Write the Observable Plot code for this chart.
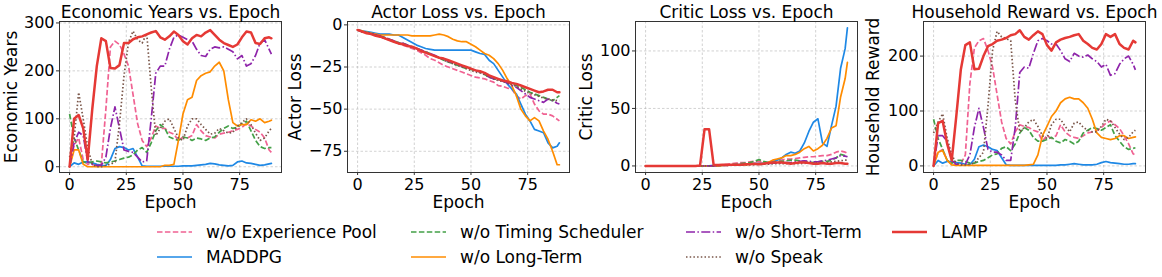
<!DOCTYPE html>
<html>
<head>
<meta charset="utf-8">
<script src="https://cdn.jsdelivr.net/npm/d3@7"></script>
<script src="https://cdn.jsdelivr.net/npm/@observablehq/plot@0.6"></script>
<style>
  html, body { margin: 0; padding: 0; background: #fff; }
  #root { position: relative; width: 1162px; height: 277px; overflow: hidden; font-family: "DejaVu Sans", sans-serif; }
  .panel { position: absolute; top: 0; }
  #root g[aria-label="x-axis tick label"], #root g[aria-label="y-axis tick label"],
  #root g[aria-label="x-axis tick label"] text, #root g[aria-label="y-axis tick label"] text {
    font-size: 16px !important; font-family: "DejaVu Sans", sans-serif !important;
  }
</style>
</head>
<body>
<div id="root"></div>
<script>
// ---------------- DATA ----------------
const epochs = [0,2,4,6,8,10,12,14,16,18,20,22,24,26,28,30,32,34,36,38,40,42,44,46,48,50,52,54,56,58,60,62,64,66,68,70,72,74,76,78,80,82,84,86,88,89];

const seriesNames = ["w/o Experience Pool", "MADDPG", "w/o Timing Scheduler", "w/o Long-Term", "w/o Short-Term", "w/o Speak", "LAMP"];

const panelTitles = ["Economic Years vs. Epoch", "Actor Loss vs. Epoch", "Critic Loss vs. Epoch", "Household Reward vs. Epoch"];
const panelYLabels = ["Economic Years", "Actor Loss", "Critic Loss", "Household Reward"];
const xTicks = [0, 25, 50, 75];
const econTicks = [0, 100, 200, 300];
const actorTicks = [0, -25, -50, -75];
const criticTicks = [0, 50, 100];
const houseTicks = [0, 100, 200];

// Economic Years
const econ_expPool   = [0,45,60,15,5,5,3,5,120,250, 262,255,235,210,150,90,55,42,60,85, 80,80,72,68,55,62,60,65,88,75, 65,62,60,68,70,72,75,78,82,90, 85,78,72,60,35, 30];
const econ_maddpg    = [0,8,5,10,10,8,5,3,2,15, 38,42,40,35,38,20,2,1,1,1, 1,1,1,1,1,2,2,2,3,4, 5,7,6,4,3,2,3,10,12,8, 7,5,3,4,6, 7];
const econ_timing    = [110,60,35,10,8,10,12,10,8,10, 12,15,18,20,25,35,40,30,50,75, 88,80,62,58,55,62,60,55,60,58, 55,60,62,72,80,85,80,82,90,95, 75,55,42,38,40, 40];
const econ_longTerm  = [0,35,35,5,0,0,0,0,0,0, 0,0,0,0,0,0,0,0,0,0, 0,3,3,5,55,110,140,145,180,190, 195,198,210,218,200,140,92,85,88,88, 98,95,100,92,95, 97];
const econ_shortTerm = [0,50,72,65,10,5,3,3,20,80, 125,80,35,32,30,20,10,12,100,195, 210,210,245,270,275,270,265,262,245,232, 230,245,250,248,250,245,240,225,232,210, 215,232,258,265,245, 235];
const econ_speak     = [20,60,155,100,40,5,0,0,3,5, 10,90,190,260,283,265,258,278,165,65, 80,95,100,80,60,55,85,100,100,88, 78,68,70,80,75,70,72,85,92,100, 88,70,55,60,75, 80];
const econ_lamp      = [0,100,108,80,15,120,210,268,262,206, 205,212,258,258,266,270,272,276,280,283, 270,265,272,282,275,262,255,268,275,272, 280,285,275,265,258,254,250,255,270,282, 280,258,256,268,270, 268];

// Actor Loss
const actor_expPool   = [-3,-4,-4.5,-5,-6,-7,-8,-9,-10,-11, -12,-13,-14,-15,-16.5,-18,-20,-21,-22.5,-24, -25,-26,-27,-28,-29,-30,-31,-31.5,-32,-33, -34,-36,-36.5,-37.5,-38,-42,-44,-42,-41,-47, -51,-53,-53,-54,-56, -57];
const actor_maddpg    = [-3,-3.5,-4,-4.5,-5,-5.5,-5.5,-5.5,-6,-6, -7.5,-9,-10.5,-12,-13,-14,-14.5,-15,-15,-15, -15,-15,-15,-15,-15,-15,-16,-17,-17.5,-21, -23,-27,-31,-35,-38,-41,-47,-53,-57,-62, -63,-64,-70,-73,-72, -70];
const actor_timing    = [-3,-4,-4.5,-5,-6,-6.5,-7.5,-8.5,-9.5,-10.5, -11,-12,-13,-14,-15,-16,-17,-18.5,-19.5,-21, -22,-23,-24,-25,-26,-26.5,-27,-28,-29.5,-31, -32,-32.5,-33,-34,-35,-36,-37,-38.5,-40,-41, -42,-43,-44,-45,-43, -42];
const actor_longTerm  = [-3,-3.5,-4.5,-5,-5.5,-6,-6,-6,-6,-6, -6,-6,-6.5,-6.5,-6.5,-6.5,-6.5,-6,-5.5,-6, -7,-8.5,-9.5,-10,-10,-11.5,-13,-15,-17,-18, -20,-23,-27,-32,-36,-42,-50,-54,-57,-55, -57,-63,-68,-75,-83, -83];
const actor_shortTerm = [-3,-4,-4.5,-5,-6,-6.5,-7.5,-8.5,-9.5,-10.5, -11,-12,-13,-14,-15,-16,-17,-18,-19.5,-20.5, -21.5,-22.5,-23.5,-24.5,-25,-26,-27,-28,-29,-31, -32,-32.5,-33.5,-34.5,-36,-37,-39,-41,-43,-44, -45,-46,-44,-45,-46.5, -47];
const actor_speak     = [-3,-4,-4.5,-5,-6,-7,-8,-9,-10,-11, -11.5,-12.5,-13.5,-14.5,-15.5,-16.5,-17.5,-18.5,-19.5,-21, -22,-23,-24,-25,-26,-27,-28,-28.5,-29.5,-31, -32,-33,-33.5,-34.5,-35.5,-36.5,-38,-39.5,-40.5,-41.5, -42.5,-43.5,-44,-44.5,-45, -45];
const actor_lamp      = [-3,-4,-5,-5.5,-6.5,-7,-8,-9,-10,-11, -11.5,-12.5,-13,-14,-15.5,-16.5,-17.5,-18.5,-19.5,-20, -21,-22,-23,-24,-25,-26,-27,-27.5,-28.5,-30, -31,-32,-33,-33.5,-34.5,-35,-36,-37,-38,-39, -40,-39.5,-38.5,-38.5,-40, -40];

// Critic Loss
const critic_expPool   = [0,0,0,0,0,0,0,0,0,0, 0,0,0,0,0,0,0.5,1,1.5,2, 2.5,3,3,3.5,4,4,3.5,3,4,5, 5,6,6,6.5,7,7.5,8,8,8.5,9, 9,10,12,13,12, 11];
const critic_maddpg    = [0,0,0,0,0,0,0,0,0,0, 0,0,0,0,0,0.5,0.5,1,1,1, 1,1.5,1.5,2,2,2,2.5,3,3.5,5, 7,10,12,11,13,20,30,38,41,20, 17,35,52,85,102, 120];
const critic_timing    = [0,0,0,0,0,0,0,0,0,0, 0,0,0,0,0,0,0.3,0.5,1,1, 1.5,2,2.5,3,4,5.5,4,3,3,4, 4,4.5,5,5,4.5,4,3.5,3,3.5,4, 4,5,7,10,9, 8];
const critic_longTerm  = [0,0,0,0,0,0,0,0,0,0, 0,0,0,0,0,0,0,0.5,0.5,1, 1,1,1,1.5,1.5,2,2,3,5,6, 7,9,9,10,12,15,17,13,15,18, 24,33,35,60,76, 90];
const critic_shortTerm = [0,0,0,0,0,0,0,0,0,0, 0,0,0,0,0,0,0.3,0.5,0.5,1, 1,1,1.5,1.5,2,2,2,2,2.5,2.5, 2.5,3,3,3.5,4,4.5,4,3.5,3.5,4.5, 5,6,7,9,8.5, 8];
const critic_speak     = [0,0,0,0,0,0,0,0,0,0, 0,0,0,0,0,0,0.3,0.5,0.5,0.8, 1,1,1,1,1.2,1.3,1.5,1.5,1.8,2, 2,2,2.2,2,2,2.3,2.5,2.8,3,3, 3,3.5,4,4.5,5, 5];
const critic_lamp      = [0,0,0,0,0,0,0,0,0,0, 0,0,0.3,32,32,1,0.8,1,1,1, 1,1,1.5,1.5,2,1.5,2,2.5,3,3, 3,2.5,2,2.5,3,3,2.5,2,2,2.5, 2,2,2.5,2.5,2, 2];

// Household Reward
const house_expPool   = [0,25,30,10,3,2,3,20,150,215, 228,232,210,180,130,80,50,40,62,75, 72,70,65,62,45,55,50,55,75,62, 55,52,50,55,60,62,65,70,78,82, 75,68,55,40,22, 20];
const house_maddpg    = [0,10,5,8,8,6,5,3,2,12, 35,38,35,30,28,15,2,1,1,1, 1,1,1,1,1,1,1,1,2,2, 3,4,3,2,2,2,3,6,8,6, 5,4,3,3,4, 4];
const house_timing    = [85,50,30,10,5,10,10,8,5,5, 8,10,15,20,22,32,35,28,40,60, 70,65,52,45,45,48,52,45,42,48, 45,40,45,60,65,70,68,65,70,75, 55,45,35,30,32, 33];
const house_longTerm  = [0,25,28,10,2,1,1,1,1,1, 1,1,1,1,1,1,1,1,1,1, 1,2,3,20,55,72,90,100,115,122, 125,122,122,115,105,85,60,52,50,48, 50,55,55,50,52, 53];
const house_shortTerm = [0,55,55,45,10,3,3,3,20,70, 105,70,30,25,25,20,10,10,70,170, 180,178,205,228,232,228,222,222,210,195, 190,205,200,198,202,195,190,180,185,165, 168,185,195,200,185, 175];
const house_speak     = [60,80,95,50,20,5,2,2,3,5, 15,25,110,210,245,235,232,228,120,62, 70,80,85,72,55,50,75,85,85,72, 62,78,80,70,65,62,62,72,85,82, 70,58,48,52,62, 65];
const house_lamp      = [0,78,82,40,10,90,175,220,225,176, 177,200,218,222,228,230,233,238,240,247, 235,230,238,245,240,220,210,225,230,233, 235,238,240,228,222,215,212,222,240,235, 240,222,215,212,228, 225];

// ---------------- STYLES ----------------
const styles = [
  {color: "#F06292", width: 1.7, dash: "5.5,2.4", cap: "butt"},
  {color: "#1E88E5", width: 1.7, dash: null, cap: "round"},
  {color: "#43A047", width: 1.7, dash: "5.5,2.4", cap: "butt"},
  {color: "#FF8C00", width: 1.7, dash: null, cap: "round"},
  {color: "#8E24AA", width: 1.7, dash: "9,2.4,1.5,2.4", cap: "butt"},
  {color: "#795548", width: 1.7, dash: "1.5,2.2", cap: "butt"},
  {color: "#E53935", width: 2.5, dash: null, cap: "round"}
];

const panels = [
  {title: panelTitles[0], ylabel: panelYLabels[0], yDomain: [-12, 303], yTicks: econTicks, frameLeft: 59.3, labelOff: 48,
   series: [econ_expPool, econ_maddpg, econ_timing, econ_longTerm, econ_shortTerm, econ_speak, econ_lamp]},
  {title: panelTitles[1], ylabel: panelYLabels[1], yDomain: [-87.6, 2], yTicks: actorTicks, frameLeft: 347.3, labelOff: 52,
   series: [actor_expPool, actor_maddpg, actor_timing, actor_longTerm, actor_shortTerm, actor_speak, actor_lamp]},
  {title: panelTitles[2], ylabel: panelYLabels[2], yDomain: [-5.7, 125.6], yTicks: criticTicks, frameLeft: 635, labelOff: 49,
   series: [critic_expPool, critic_maddpg, critic_timing, critic_longTerm, critic_shortTerm, critic_speak, critic_lamp]},
  {title: panelTitles[3], ylabel: panelYLabels[3], yDomain: [-12, 263], yTicks: houseTicks, frameLeft: 923.3, labelOff: 50,
   series: [house_expPool, house_maddpg, house_timing, house_longTerm, house_shortTerm, house_speak, house_lamp]}
];

const ML = 60, MR = 10, MT = 21, MB = 43, W = ML + 222 + MR, H = 215;
const FONT = "DejaVu Sans";
const root = document.getElementById("root");

for (const p of panels) {
  const lineMarks = p.series.map((vals, i) => {
    const rows = epochs.map((e, j) => ({epoch: e, value: vals[j], series: seriesNames[i]}));
    const s = styles[i];
    const opts = {x: "epoch", y: "value", stroke: s.color, strokeWidth: s.width, strokeLinecap: s.cap, strokeLinejoin: "round"};
    if (s.dash) opts.strokeDasharray = s.dash;
    return Plot.line(rows, opts);
  });
  const chart = Plot.plot({
    width: W, height: H,
    marginLeft: ML, marginRight: MR, marginTop: MT, marginBottom: MB,
    style: {fontFamily: FONT, fontSize: "17px", background: "transparent", overflow: "visible", color: "#000"},
    x: {domain: [-4.45, 93.45]},
    y: {domain: p.yDomain},
    marks: [
      Plot.gridX(xTicks, {stroke: "#b8b8b8", strokeOpacity: 0.8, strokeDasharray: "2.5,2", strokeWidth: 0.8}),
      Plot.gridY(p.yTicks, {stroke: "#b8b8b8", strokeOpacity: 0.8, strokeDasharray: "2.5,2", strokeWidth: 0.8}),
      ...lineMarks,
      Plot.frame({stroke: "#333", strokeWidth: 1}),
      Plot.axisX(xTicks, {tickSize: 3, tickPadding: 3, fontSize: 16, label: null, fill: "#000", stroke: "#333"}),
      Plot.axisY(p.yTicks, {tickSize: 3, tickPadding: 2, fontSize: 16, label: null, fill: "#000", stroke: "#333"}),
      Plot.text([p.title], {text: d => d, frameAnchor: "top", lineAnchor: "bottom", dy: -4, fontSize: 17, fill: "#000"}),
      Plot.text(["Epoch"], {text: d => d, frameAnchor: "bottom", lineAnchor: "bottom", dy: 35.5, fontSize: 17, fill: "#000"}),
      Plot.text([p.ylabel], {text: d => d, frameAnchor: "left", dx: -p.labelOff, rotate: -90, lineAnchor: "middle", textAnchor: "middle", fontSize: 17, fill: "#000"})
    ]
  });
  const div = document.createElement("div");
  div.className = "panel";
  div.style.left = (p.frameLeft - ML) + "px";
  div.appendChild(chart);
  root.appendChild(div);
}

// ---------------- LEGEND ----------------
const legendOrder = [[0, 1], [2, 3], [4, 5], [6]];
const colX = [157, 411, 686, 892];
const rowY = [232, 257];
const svg = d3.create("svg").attr("width", 1162).attr("height", 277)
  .style("position", "absolute").style("left", "0px").style("top", "0px");
legendOrder.forEach((col, c) => {
  col.forEach((si, r) => {
    const s = styles[si];
    const g = svg.append("g");
    const ln = g.append("line").attr("x1", colX[c]).attr("x2", colX[c] + 35)
      .attr("y1", rowY[r]).attr("y2", rowY[r])
      .attr("stroke", s.color).attr("stroke-width", s.width).attr("stroke-linecap", "butt");
    if (s.dash) ln.attr("stroke-dasharray", s.dash);
    g.append("text").attr("x", colX[c] + 49).attr("y", rowY[r]).attr("dy", "0.35em")
      .attr("font-family", FONT).attr("font-size", 17).attr("fill", "#000")
      .text(seriesNames[si]);
  });
});
root.appendChild(svg.node());
</script>
</body>
</html>
